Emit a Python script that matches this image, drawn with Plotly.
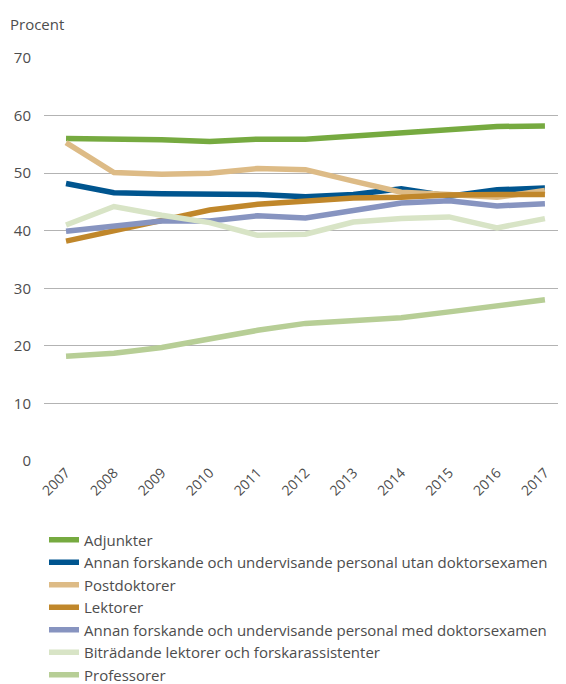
import plotly.graph_objects as go

years = [2007, 2008, 2009, 2010, 2011, 2012, 2013, 2014, 2015, 2016, 2017]

adjunkter = [56.0, 56.0, 55.8, 55.5, 55.9, 55.9, 56.4, 56.9, 57.5, 58.1, 58.2]
annan_utan = [48.2, 46.6, 46.4, 46.4, 46.3, 45.9, 46.3, 47.3, 46.0, 47.1, 47.4]
postdoktorer = [55.3, 50.1, 49.8, 50.0, 50.8, 50.6, 48.6, 46.7, 46.3, 45.8, 47.0]
lektorer = [38.2, 40.0, 41.6, 43.6, 44.6, 45.2, 45.7, 45.8, 46.2, 46.3, 46.3]
annan_med = [39.9, 40.8, 41.7, 41.7, 42.6, 42.2, 43.4, 44.8, 45.2, 44.3, 44.7]
bitradande = [41.0, 44.2, 42.7, 41.4, 39.2, 39.4, 41.5, 42.1, 42.4, 40.5, 42.1]
professorer = [18.2, 18.7, 19.7, 21.3, 22.7, 23.9, 24.3, 24.9, 25.9, 27.0, 28.0]

series = [
    ("Adjunkter", adjunkter, "#76aa40"),
    ("Annan forskande och undervisande personal utan doktorsexamen", annan_utan, "#00558f"),
    ("Postdoktorer", postdoktorer, "#ddbb86"),
    ("Lektorer", lektorer, "#c0872b"),
    ("Annan forskande och undervisande personal med doktorsexamen", annan_med, "#8794c0"),
    ("Biträdande lektorer och forskarassistenter", bitradande, "#d8e4c6"),
    ("Professorer", professorer, "#b7ce96"),
]

font = "Open Sans"
grey = "#4d4d4d"

fig = go.Figure()
for i, (name, vals, color) in enumerate(series):
    fig.add_trace(go.Scatter(x=years, y=vals, name=name, mode="lines",
                             legendgroup=f"g{i}",
                             line=dict(color=color, width=5.5)))

# page body has an 8px margin, so the figure is drawn 8px smaller
fig.update_layout(
    template="none",
    width=558, height=676,
    margin=dict(l=36, r=0, t=50, b=223, autoexpand=False),
    plot_bgcolor="white", paper_bgcolor="white",
    font=dict(family=font, size=15, color=grey),
    showlegend=True,
    legend=dict(x=0, xanchor="left", y=-0.155, yanchor="top",
                traceorder="grouped", tracegroupgap=0,
                font=dict(size=15, color=grey), itemwidth=30),
    annotations=[dict(text="Procent", xref="paper", yref="paper",
                      x=-0.069, y=1.085, xanchor="left", yanchor="middle",
                      showarrow=False, font=dict(size=15, color=grey))],
)
fig.update_xaxes(range=[2006.54, 2017.44], tickvals=years, tickangle=-45,
                 showgrid=False, zeroline=False, showline=False, ticks="",
                 automargin=False, tickfont=dict(size=14, color=grey))
fig.update_yaxes(range=[0, 70], dtick=10, showgrid=True, gridcolor="#b3b3b3",
                 gridwidth=1.2, zeroline=False, showline=False, ticks="",
                 automargin=False, ticklabelstandoff=12,
                 tickfont=dict(size=15, color=grey))

fig.write_html("out.html")
